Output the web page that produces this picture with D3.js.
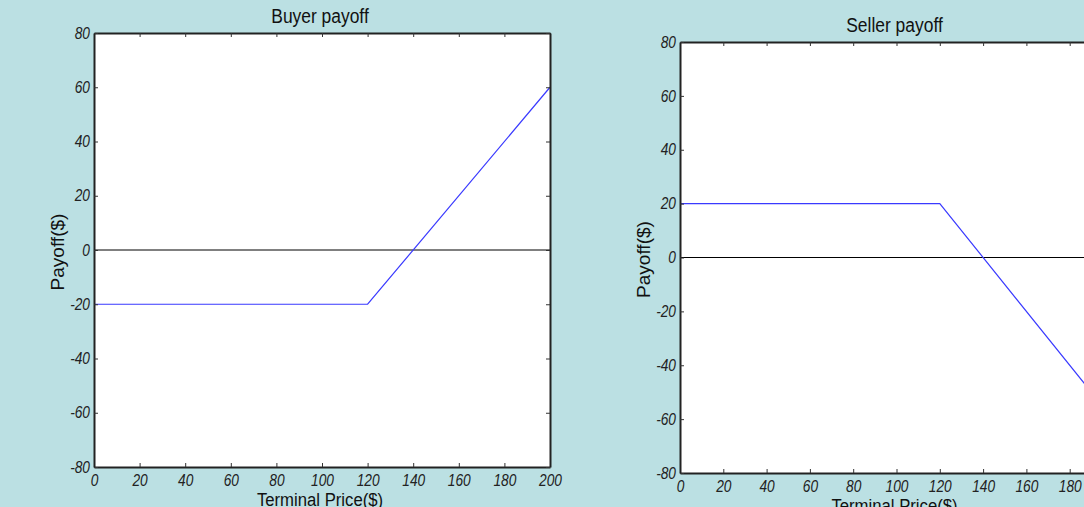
<!DOCTYPE html>
<html lang="en">
<head>
<meta charset="UTF-8">
<title>Buyer and seller payoff</title>
<script src="https://cdn.jsdelivr.net/npm/d3@7"></script>
<style>
  body { margin: 0; background: #bbe0e3; }
  svg { display: block; }
  .tick text { font-family: "Liberation Sans", Arial, sans-serif; font-style: italic; font-size: 16px; fill: #222; }
  .title, .xlab { font-family: "Liberation Sans", Arial, sans-serif; fill: #111; }
  .ylab { font-family: "Liberation Sans", Arial, sans-serif; font-size: 19px; fill: #111; }
</style>
</head>
<body>
<div id="chart"></div>
<script>
    // terminal price breakpoints and payoff at each one
    const prices = [0, 120, 200];
    const buyerPayoff = [-20, -20, 60];
    const sellerPayoff = [20, 20, -60];
    const xTicks = [0, 20, 40, 60, 80, 100, 120, 140, 160, 180, 200];
    const yTicks = [-80, -60, -40, -20, 0, 20, 40, 60, 80];

    const W = 1084, H = 507;
    const narrow = 0.86; // squeeze tick text horizontally, like a narrow font
    const svg = d3.select("#chart").append("svg")
        .attr("width", W)
        .attr("height", H);

    // panel boxes (pixels)
    const panels = [
        {title: "Buyer payoff", values: buyerPayoff, left: 94, right: 550, top: 33, bottom: 467},
        {title: "Seller payoff", values: sellerPayoff, left: 680, right: 1113, top: 42, bottom: 473}
    ];

    const fmt = d => String(d); // plain hyphen for negatives

    panels.forEach(p => {
        const x = d3.scaleLinear().domain([0, 200]).range([p.left, p.right]);
        const y = d3.scaleLinear().domain([-80, 80]).range([p.bottom, p.top]);
        const g = svg.append("g");

        g.append("rect")
            .attr("x", p.left).attr("y", p.top)
            .attr("width", p.right - p.left).attr("height", p.bottom - p.top)
            .attr("fill", "#fff");

        // zero line
        g.append("line")
            .attr("x1", x(0)).attr("x2", x(200))
            .attr("y1", y(0)).attr("y2", y(0))
            .attr("stroke", "#000").attr("stroke-width", 1);

        const line = d3.line().x((d, i) => x(prices[i])).y(d => y(d));
        g.append("path")
            .attr("d", line(p.values))
            .attr("fill", "none")
            .attr("stroke", "#3a3aff")
            .attr("stroke-width", 1.2);

        // axes, ticks pointing inward
        const bottom = g.append("g").attr("transform", `translate(0,${p.bottom})`)
            .call(d3.axisBottom(x).tickValues(xTicks).tickFormat(fmt).tickSizeInner(-4).tickSizeOuter(0).tickPadding(8));
        const top = g.append("g").attr("transform", `translate(0,${p.top})`)
            .call(d3.axisTop(x).tickValues(xTicks).tickFormat("").tickSizeInner(-4).tickSizeOuter(0));
        const left = g.append("g").attr("transform", `translate(${p.left},0)`)
            .call(d3.axisLeft(y).tickValues(yTicks).tickFormat(fmt).tickSizeInner(-4).tickSizeOuter(0).tickPadding(4));
        const right = g.append("g").attr("transform", `translate(${p.right},0)`)
            .call(d3.axisRight(y).tickValues(yTicks).tickFormat("").tickSizeInner(-4).tickSizeOuter(0));

        [bottom, top, left, right].forEach(s => {
            s.select(".domain").attr("stroke", "#222").attr("stroke-width", 2);
            s.selectAll(".tick line").attr("stroke", "#333");
        });
        bottom.selectAll(".tick text").attr("transform", `scale(${narrow},1)`);
        left.selectAll(".tick text")
            .attr("x", -4 / narrow)
            .attr("transform", `scale(${narrow},1)`);

        const cx = (p.left + p.right) / 2 - 2;
        g.append("text").attr("class", "title")
            .attr("transform", `translate(${cx},${p.top - 10}) scale(0.83,1)`)
            .attr("font-size", 21)
            .attr("text-anchor", "middle").text(p.title);

        g.append("text").attr("class", "xlab")
            .attr("transform", `translate(${cx},${p.bottom + 39}) scale(0.88,1)`)
            .attr("font-size", 19)
            .attr("text-anchor", "middle").text("Terminal Price($)");

        g.append("text").attr("class", "ylab")
            .attr("transform", `translate(${p.left - 30},${(p.top + p.bottom) / 2 + 2}) rotate(-90)`)
            .attr("text-anchor", "middle").text("Payoff($)");
    });
</script>
</body>
</html>
